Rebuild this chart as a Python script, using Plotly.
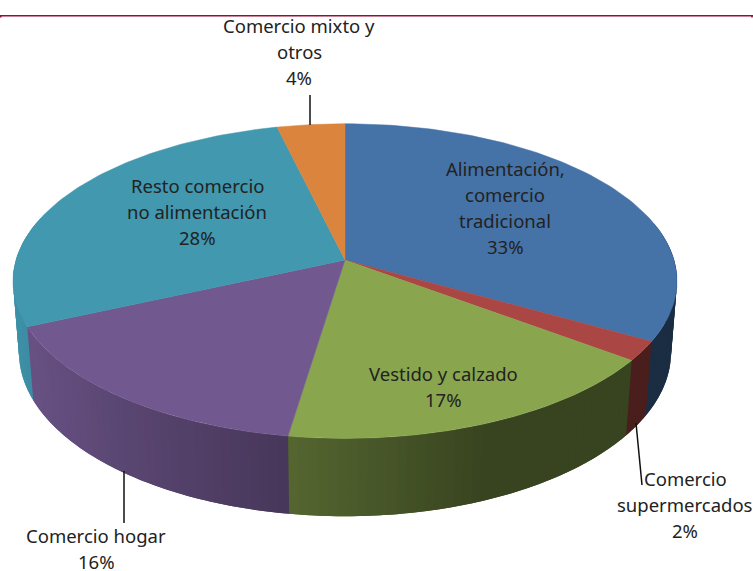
import numpy as np
import plotly.graph_objects as go

# share of each slice, clockwise from 12 o'clock
categories = ['Alimentación, comercio tradicional', 'Comercio supermercados', 'Vestido y calzado',
              'Comercio hogar', 'Resto comercio no alimentación', 'Comercio mixto y otros']
values = [33.2, 2.0, 17.2, 15.9, 27.95, 3.75]
percent_labels = ['33%', '2%', '17%', '16%', '28%', '4%']
label_lines = [['Alimentación,', 'comercio', 'tradicional'],
               ['Comercio', 'supermercados'],
               ['Vestido y calzado'],
               ['Comercio hogar'],
               ['Resto comercio', 'no alimentación'],
               ['Comercio mixto y', 'otros']]

top_colors = ['#4572A7', '#AA4643', '#89A54E', '#71588F', '#4198AF', '#DB843D']
# side wall shade: x stops and brightness factors per slice
side_shade_x = [[640, 680], [620, 650], [288, 490], [30, 120, 288], [15, 35], [280, 345]]
side_shade_f = [[.40, .40], [.43, .43], [.62, .41], [.92, .80, .63], [.95, .92], [.9, .9]]

# label centres in pixels: x, first line y
label_x = [505, 685, 443, 96, 197, 299]
label_y = [168, 478, 373, 535, 185, 25]
line_gap = 26

# perspective model of the disc
CX, CY = 345, 260
RX, RY = 329, 154.5
K = 0.134
DEPTH_Y, DEPTH_W = 72, 0.018


def project(theta, base=False):
    u, v = np.sin(theta), np.cos(theta)
    w = 1 + K * v + (DEPTH_W if base else 0)
    y = -RY * v + (DEPTH_Y if base else 0)
    return CX + RX * u / w, CY + y / w


def rgb_scale(hex_color, f):
    r, g, b = [int(hex_color[i:i + 2], 16) for i in (1, 3, 5)]
    return 'rgb(%d,%d,%d)' % (r * f, g * f, b * f)


edges = np.cumsum([0] + values) / sum(values) * 2 * np.pi

fig = go.Figure()

# side wall first, as narrow strips so the shading can change along it
# each strip runs one step past its end, the next one paints over the seam
for i in range(len(values)):
    n = max(int(np.degrees(edges[i + 1] - edges[i]) / 1.5), 2)
    steps = np.linspace(edges[i], edges[i + 1], n + 1)
    step = steps[1] - steps[0]
    for a, b in zip(steps[:-1], steps[1:]):
        if np.cos((a + b) / 2) > 0.25:
            continue
        arc = np.linspace(a, b + step, 4)
        tx, ty = project(arc)
        bx, by = project(arc[::-1], base=True)
        f = np.interp(project((a + b) / 2)[0], side_shade_x[i], side_shade_f[i])
        fig.add_trace(go.Scatter(x=list(tx) + list(bx) + [tx[0]], y=list(ty) + list(by) + [ty[0]],
                                 mode='none', fill='toself', fillcolor=rgb_scale(top_colors[i], f),
                                 hoverinfo='skip', showlegend=False))

# top face
for i in range(len(values)):
    arc = np.linspace(edges[i], edges[i + 1], 90)
    ax, ay = project(arc)
    fig.add_trace(go.Scatter(x=[CX] + list(ax) + [CX], y=[CY] + list(ay) + [CY],
                             mode='lines', fill='toself', fillcolor=top_colors[i],
                             line=dict(color=top_colors[i], width=0.5),
                             name=categories[i], hoverinfo='name', showlegend=False))

# labels, one annotation per line to hold the line spacing
for i in range(len(values)):
    lines = label_lines[i] + [percent_labels[i]]
    for j, line in enumerate(lines):
        fig.add_annotation(x=label_x[i], y=label_y[i] + j * line_gap, text=line, showarrow=False,
                           xanchor='center', yanchor='middle',
                           font=dict(family='Noto Sans', size=18.5, color='#222222'))

# leader lines
for x0, y0, x1, y1 in [(310, 95, 310, 125), (124, 471, 124, 523), (636, 423, 642, 485)]:
    fig.add_shape(type='line', x0=x0, y0=y0, x1=x1, y1=y1, line=dict(color='#111111', width=1.5))

# dark red rule along the top, with its small end ticks
rule_color = '#960C36'
fig.add_shape(type='line', x0=0, y0=15.75, x1=753, y1=15.75, line=dict(color=rule_color, width=1.5))
for x_end in (0.75, 752):
    fig.add_shape(type='line', x0=x_end, y0=15, x1=x_end, y1=17.5, line=dict(color=rule_color, width=1.5))

fig.update_layout(
    width=753, height=571, margin=dict(l=0, r=0, t=0, b=0),
    paper_bgcolor='white', plot_bgcolor='white', showlegend=False,
    xaxis=dict(range=[0, 753], visible=False, fixedrange=True),
    yaxis=dict(range=[571, 0], visible=False, fixedrange=True))

fig.write_html("out.html", config=dict(displayModeBar=False),
               post_script="document.body.style.margin='0';")
